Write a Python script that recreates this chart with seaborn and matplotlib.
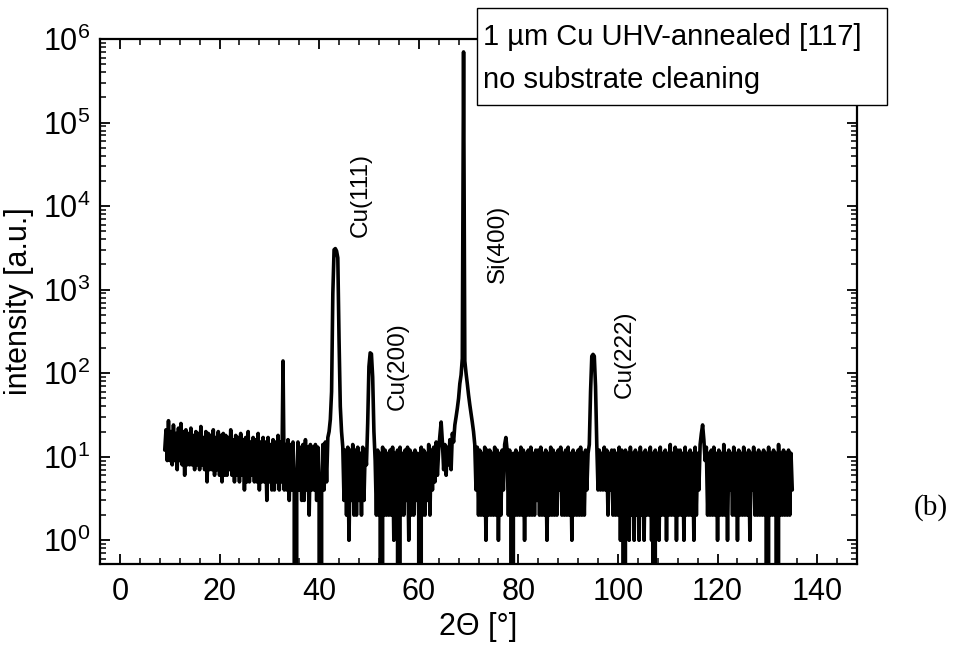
import matplotlib
matplotlib.use('Agg')
import numpy as np
import pandas as pd
import matplotlib.pyplot as plt
import seaborn as sns
from matplotlib.ticker import MultipleLocator, LogLocator, FixedLocator, FuncFormatter, NullFormatter
from matplotlib.patches import Rectangle

# XRD scan, 2theta from 9 to 135 deg in 0.25 deg steps (counts)
two_theta = np.arange(9.0, 135.001, 0.25)
intensity = [
    12, 21, 9, 27, 9, 20, 8, 24, 9, 19, 7, 22, 9, 25, 8, 20, 6, 21, 8, 19,             # 9
    8, 22, 8, 18, 7, 20, 8, 19, 7, 23, 8, 17, 7, 20, 5, 19, 7, 18, 7, 21,              # 14
    6, 17, 7, 20, 6, 18, 5, 19, 6, 18, 6, 17, 7, 21, 6, 16, 5, 18, 6, 17,              # 19
    5, 19, 6, 16, 4, 17, 5, 20, 5, 15, 6, 17, 5, 16, 5, 19, 4, 15, 5, 17,              # 24
    5, 15, 3, 17, 5, 14, 4, 16, 4, 15, 5, 18, 4, 15, 5, 140, 4, 14, 4, 16,             # 29
    3, 14, 4, 15, 4, 0, 4, 15, 4, 13, 3, 14, 3, 16, 4, 13, 2, 14, 4, 13,               # 34
    4, 14, 3, 13, 3, 0, 4, 14, 4, 15, 5, 17, 20, 28, 60, 900, 3000, 3100, 2900, 2400,  # 39
    250, 40, 20, 13, 3, 12, 2, 13, 1, 12, 3, 14, 2, 12, 2, 13, 3, 11, 2, 13,           # 44
    3, 12, 8, 25, 120, 175, 170, 90, 20, 9, 2, 12, 2, 11, 0, 13, 2, 12, 2, 11,         # 49
    2, 12, 2, 13, 1, 11, 2, 12, 0, 13, 2, 11, 2, 12, 3, 13, 1, 12, 2, 11,              # 54
    2, 12, 3, 11, 2, 0, 13, 2, 12, 2, 11, 3, 14, 2, 12, 4, 13, 5, 15, 6,               # 59
    12, 18, 26, 15, 7, 14, 6, 13, 8, 16, 7, 19, 15, 24, 30, 38, 50, 75, 95, 150,       # 64
    700000, 140, 100, 75, 55, 42, 33, 26, 20, 14, 4, 13, 2, 12, 2, 11, 2, 13, 1, 12,   # 69
    2, 12, 2, 11, 2, 13, 2, 12, 1, 11, 2, 12, 4, 14, 17, 12, 2, 12, 2, 0,              # 74
    11, 2, 12, 2, 11, 2, 13, 2, 12, 1, 11, 2, 12, 2, 13, 2, 11, 2, 12, 3,              # 79
    12, 2, 13, 2, 11, 2, 12, 1, 11, 2, 13, 2, 12, 2, 11, 2, 12, 4, 13, 2,              # 84
    11, 2, 12, 2, 13, 2, 11, 1, 12, 2, 11, 2, 12, 2, 13, 2, 11, 2, 12, 4,              # 89
    11, 14, 60, 160, 168, 160, 70, 14, 4, 12, 4, 11, 4, 13, 4, 12, 2, 11, 4, 12,       # 94
    2, 12, 2, 11, 2, 13, 1, 12, 2, 0, 12, 2, 11, 1, 13, 2, 11, 1, 12, 2,               # 99
    11, 1, 13, 2, 11, 1, 12, 2, 11, 2, 13, 1, 11, 0, 12, 2, 11, 1, 13, 2,              # 104
    11, 2, 12, 1, 11, 2, 14, 2, 11, 2, 13, 1, 12, 2, 12, 2, 11, 1, 13, 2,              # 109
    11, 2, 12, 2, 11, 1, 13, 2, 11, 4, 14, 19, 24, 16, 9, 13, 2, 11, 2, 12,            # 114
    2, 13, 2, 11, 1, 12, 2, 11, 2, 14, 2, 11, 1, 12, 4, 11, 2, 13, 2, 11,              # 119
    1, 12, 2, 11, 2, 13, 2, 11, 2, 12, 1, 11, 4, 13, 2, 11, 2, 12, 2, 11,              # 124
    2, 12, 2, 11, 0, 13, 2, 11, 2, 12, 2, 11, 0, 14, 2, 11, 2, 12, 2, 11,              # 129
    2, 12, 2, 11, 4,                                                                   # 134
]

peak_names = ["Cu(111)", "Cu(200)", "Si(400)", "Cu(222)"]
peak_text_x = [48.4, 55.8, 75.8, 101.4]
peak_text_y = [4300, 36, 1200, 51]

df = pd.DataFrame({"two_theta": two_theta, "intensity": intensity})

sns.set_style("ticks")
plt.rcParams['font.family'] = ['Liberation Sans', 'DejaVu Sans']
plt.rcParams['mathtext.default'] = 'regular'
plt.rcParams['path.simplify'] = False
for key in ['text.color', 'axes.labelcolor', 'xtick.color', 'ytick.color', 'axes.edgecolor']:
    plt.rcParams[key] = 'black'

fig = plt.figure(figsize=(9.54, 6.51), dpi=100)
ax = fig.add_axes([100 / 954, 1 - 564 / 651, 757 / 954, 525 / 651])

sns.lineplot(data=df, x="two_theta", y="intensity", color="black", linewidth=2.6,
             estimator=None, ax=ax)
ax.set_yscale("log")
ax.set_xlim(-4, 148)
ax.set_ylim(0.52, 1e6)

ax.xaxis.set_major_locator(MultipleLocator(20))
ax.xaxis.set_minor_locator(MultipleLocator(4))
ax.yaxis.set_major_locator(FixedLocator([1, 10, 1e2, 1e3, 1e4, 1e5, 1e6]))
ax.yaxis.set_minor_locator(LogLocator(base=10, subs=np.arange(2, 10), numticks=20))
ax.yaxis.set_major_formatter(FuncFormatter(lambda v, p: r'$\mathregular{10^{%d}}$' % round(np.log10(v))))
ax.yaxis.set_minor_formatter(NullFormatter())

for s in ax.spines.values():
    s.set_linewidth(1.6)
    s.set_color("black")
ax.tick_params(which="both", direction="in", top=True, right=True, color="black",
               labelcolor="black")
ax.tick_params(which="major", length=7, width=1.3, labelsize=22, pad=7)
ax.tick_params(which="minor", length=4, width=1.1)
ax.tick_params(axis="x", which="major", pad=9)

ax.set_xlabel("2Θ [°]", fontsize=22, labelpad=4)
ax.set_ylabel("intensity [a.u.]", fontsize=22, labelpad=6)

for name, tx, ty in zip(peak_names, peak_text_x, peak_text_y):
    ax.text(tx, ty, name, rotation=90, ha="center", va="bottom", fontsize=17.5)

# annotation box overlapping the top spine
fig.add_artist(Rectangle((477 / 954, 1 - 105 / 651), 410 / 954, 97 / 651,
                         transform=fig.transFigure, facecolor="white",
                         edgecolor="black", linewidth=1.0, zorder=5))
fig.text(483 / 954, 1 - 37 / 651, "1 µm Cu UHV-annealed [117]", fontsize=21,
         va="center", ha="left", zorder=6)
fig.text(483 / 954, 1 - 80 / 651, "no substrate cleaning", fontsize=21,
         va="center", ha="left", zorder=6)

fig.text(931 / 954, 1 - 508 / 651, "(b)", fontsize=21, ha="center", va="center",
         family=["Liberation Serif", "DejaVu Serif"])

fig.savefig("out.png", dpi=100)
